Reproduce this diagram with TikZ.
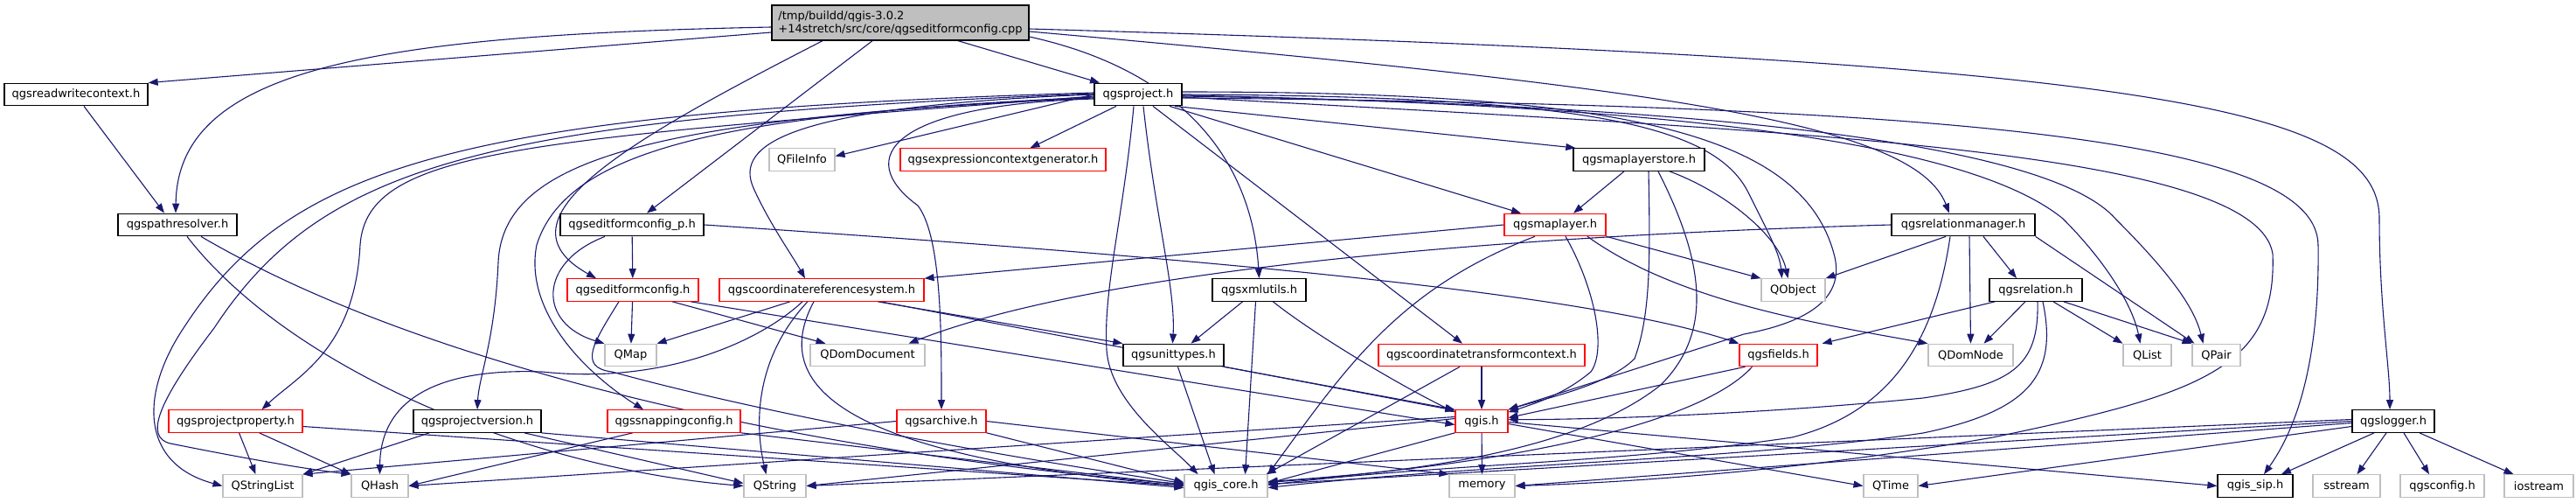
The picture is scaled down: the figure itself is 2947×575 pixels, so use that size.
\documentclass[tikz,border=0pt]{standalone}
\usepackage{fontspec}
\setmainfont{DejaVu Sans}
\usetikzlibrary{arrows.meta}
\pgfdeclarelayer{background}
\pgfsetlayers{background,main}
\definecolor{ecol}{RGB}{25,25,112}
\definecolor{gcol}{RGB}{191,191,191}
\definecolor{rcol}{RGB}{255,0,0}
\definecolor{rootfill}{RGB}{191,191,191}
\newcommand{\nodefnt}{\fontsize{13}{15}\selectfont}
\tikzset{
  nbase/.style={fill=white, inner sep=0pt, minimum height=25.5pt, font=\nodefnt, text=black},
  nb/.style={nbase, draw=black, line width=1.3pt},
  nr/.style={nbase, draw=rcol, line width=1.1pt},
  ng/.style={nbase, draw=gcol, line width=1.1pt},
  nroot/.style={nbase, fill=rootfill, draw=black, line width=1.3pt, align=left},
  e/.style={draw=ecol, line width=1.1pt, -{Triangle[length=11pt,width=8pt]}}
}
\begin{document}
\begin{tikzpicture}[x=1pt,y=-1pt]
\useasboundingbox (0,0) rectangle (2947,575);
% ---------- nodes ----------
\node[nroot, minimum width=294pt, minimum height=40pt] (root) at (1030,26) {/tmp/buildd/qgis-3.0.2\\+14stretch/src/core/qgseditformconfig.cpp};
\node[nb, minimum width=164pt] (rw) at (87,108) {qgsreadwritecontext.h};
\node[ng, minimum width=75pt] (fi) at (917.5,182.5) {QFileInfo};
\node[nb, minimum width=100pt] (pj) at (1302,108) {qgsproject.h};
\node[nr, minimum width=235pt] (eg) at (1147.5,182.5) {qgsexpressioncontextgenerator.h};
\node[nb, minimum width=150pt] (ms) at (1875,182.5) {qgsmaplayerstore.h};
\node[nb, minimum width=136pt] (pr) at (203,257) {qgspathresolver.h};
\node[nb, minimum width=164pt] (efp) at (723,257) {qgseditformconfig\_p.h};
\node[nr, minimum width=116pt] (ml) at (1779,257) {qgsmaplayer.h};
\node[nb, minimum width=164pt] (rm) at (2246,257) {qgsrelationmanager.h};
\node[nr, minimum width=150pt] (ef) at (724,331.5) {qgseditformconfig.h};
\node[nr, minimum width=234pt] (crs) at (940,331.5) {qgscoordinatereferencesystem.h};
\node[nb, minimum width=107pt] (xu) at (1440.5,331.5) {qgsxmlutils.h};
\node[ng, minimum width=73pt] (qo) at (2051.5,331.5) {QObject};
\node[nb, minimum width=106pt] (rl) at (2329,331.5) {qgsrelation.h};
\node[ng, minimum width=59pt] (qm) at (721.5,406) {QMap};
\node[ng, minimum width=131pt] (qdd) at (992.5,406) {QDomDocument};
\node[nb, minimum width=115pt] (ut) at (1342.5,406) {qgsunittypes.h};
\node[nr, minimum width=236pt] (ctc) at (1695,406) {qgscoordinatetransformcontext.h};
\node[nr, minimum width=89pt] (fl) at (2034.5,406) {qgsfields.h};
\node[ng, minimum width=97pt] (dn) at (2254.5,406) {QDomNode};
\node[ng, minimum width=55pt] (ql) at (2456.5,406) {QList};
\node[ng, minimum width=55pt] (qp) at (2535.5,406) {QPair};
\node[nr, minimum width=153pt] (pp) at (269.5,481.5) {qgsprojectproperty.h};
\node[nb, minimum width=146pt] (pv) at (546,481.5) {qgsprojectversion.h};
\node[nr, minimum width=152pt] (sc) at (771,481.5) {qgssnappingconfig.h};
\node[nr, minimum width=102pt] (ar) at (1077,481.5) {qgsarchive.h};
\node[nr, minimum width=60pt] (qg) at (1695,481.5) {qgis.h};
\node[nb, minimum width=94pt] (lg) at (2738,481.5) {qgslogger.h};
\node[ng, minimum width=91pt] (qsl) at (300.5,555.5) {QStringList};
\node[ng, minimum width=65pt] (qh) at (434.5,555.5) {QHash};
\node[ng, minimum width=71pt] (qs) at (886.5,555.5) {QString};
\node[ng, minimum width=95pt] (qc) at (1402.5,555.5) {qgis\_core.h};
\node[ng, minimum width=75pt] (mem) at (1695.5,555.5) {memory};
\node[ng, minimum width=62pt] (qt) at (2163,555.5) {QTime};
\node[nb, minimum width=86pt] (sip) at (2580,555.5) {qgis\_sip.h};
\node[ng, minimum width=77pt] (ss) at (2684.5,555.5) {sstream};
\node[ng, minimum width=96pt] (cfg) at (2794,555.5) {qgsconfig.h};
\node[ng, minimum width=79pt] (ios) at (2904.5,555.5) {iostream};
% ---------- edges ----------
\begin{pgfonlayer}{background}
% root
\draw[e] ([yshift=-11pt]root.west) -- (rw.north east);
\draw[e] ([yshift=-5pt]root.west) .. controls (420,40) and (203,80) .. ([xshift=-2pt]pr.north);
\draw[e] ([xshift=-89pt]root.south) .. controls (720,160) and (560,250) .. ([xshift=-42pt]ef.north);
\draw[e] ([xshift=-32pt]root.south) -- ([xshift=17pt]efp.north);
\draw[e] ([xshift=66pt]root.south) -- ([xshift=-44pt]pj.north);
\draw[e] ([yshift=-16pt]root.east) .. controls (1350,80) and (1432,180) .. (xu.north);
\draw[e] ([yshift=-10pt]root.east) .. controls (1900,100) and (2190,140) .. ([xshift=-16pt]rm.north);
\draw[e] ([yshift=-7pt]root.east) .. controls (2450,70) and (2722,120) .. (2722,250) .. controls (2722,350) and (2734,420) .. ([xshift=-4pt]lg.north);
% readwritecontext, pathresolver
\draw[e] ([xshift=9pt]rw.south) -- ([xshift=-15pt]pr.north);
\draw[e] ([xshift=11pt]pr.south) .. controls (330,420) and (600,535) .. (qs.west);
\draw[e] ([xshift=27pt]pr.south) .. controls (520,440) and (1000,525) .. ([yshift=2pt]qc.west);
% qgsproject.h
\draw[e] (pj.west) -- ([yshift=4pt]fi.east);
\draw[e] ([xshift=-25pt]pj.south) -- ([xshift=31pt]eg.north);
\draw[e] ([xshift=42pt]pj.south) -- ([xshift=3pt]ms.north west);
\draw[e] ([xshift=36pt]pj.south) -- ([xshift=-39pt]ml.north);
\draw[e] ([xshift=17pt]pj.south) -- ([xshift=-22pt]ctc.north);
\draw[e] ([xshift=6pt]pj.south) .. controls (1322,250) and (1345,330) .. ([xshift=-1pt]ut.north);
\draw[e] ([xshift=-5pt]pj.south) .. controls (1285,250) and (1262,330) .. (1266,400) .. controls (1270,460) and (1340,510) .. ([xshift=-32pt]qc.north);
\draw[e] ([yshift=-5pt]pj.west) .. controls (1020,120) and (975,180) .. (1050,235) .. controls (1077,270) and (1077,380) .. (ar.north);
\draw[e] (pj.west) .. controls (900,122) and (840,165) .. (862,215) .. controls (880,255) and (905,290) .. ([xshift=-19pt]crs.north);
\draw[e] ([yshift=-2pt]pj.west) .. controls (600,160) and (420,170) .. (412,280) .. controls (406,400) and (340,430) .. ([xshift=30pt]pp.north);
\draw[e] ([yshift=-4pt]pj.west) .. controls (750,135) and (575,180) .. (570,300) .. controls (566,390) and (548,430) .. (pv.north);
\draw[e] ([yshift=-3pt]pj.west) .. controls (850,130) and (650,165) .. (614,280) .. controls (600,350) and (660,420) .. ([xshift=-35pt]sc.north);
\draw[e] ([yshift=2pt]pj.west) .. controls (520,128) and (330,190) .. (210,375) .. controls (160,450) and (160,530) .. (qsl.west);
\draw[e] ([yshift=1pt]pj.west) .. controls (560,135) and (370,185) .. (245,375) .. controls (180,460) and (165,500) .. (195,507) .. controls (260,520) and (340,535) .. (qh.north west);
\draw[e] (pj.east) .. controls (1800,110) and (1960,140) .. (2000,220) .. controls (2025,270) and (2036,290) .. ([xshift=-13pt]qo.north);
\draw[e] ([yshift=3pt]pj.east) .. controls (1850,105) and (2060,150) .. (2098,290) .. controls (2112,340) and (2070,368) .. (1995,382) -- (qg.north east);
\draw[e] ([yshift=-1pt]pj.east) .. controls (1900,120) and (2250,160) .. (2360,250) .. controls (2410,300) and (2440,350) .. ([xshift=-8pt]ql.north);
\draw[e] ([yshift=-2pt]pj.east) .. controls (2000,120) and (2350,170) .. (2420,250) .. controls (2480,310) and (2510,350) .. ([xshift=-15pt]qp.north);
\draw[e] ([yshift=-4pt]pj.east) .. controls (2250,120) and (2650,160) .. (2652,280) .. controls (2654,430) and (2620,500) .. ([xshift=10pt]sip.north);
\draw[e] ([yshift=-3pt]pj.east) .. controls (2050,150) and (2580,170) .. (2600,290) .. controls (2605,420) and (2520,450) .. (2280,500) .. controls (2050,540) and (1850,552) .. (mem.east);
% qgsmaplayerstore.h
\draw[e] ([xshift=-17pt]ms.south) -- ([xshift=21pt]ml.north);
\draw[e] ([xshift=11pt]ms.south) .. controls (1888,300) and (1888,360) .. (1870,410) .. controls (1840,440) and (1770,455) .. (qg.north east);
\draw[e] ([xshift=35pt]ms.south) .. controls (1975,220) and (2035,270) .. ([xshift=-6pt]qo.north);
\draw[e] ([xshift=22pt]ms.south) .. controls (1950,300) and (1960,380) .. (1900,440) .. controls (1800,520) and (1600,540) .. ([yshift=4pt]qc.east);
% qgsmaplayer.h
\draw[e] (ml.west) -- (crs.north east);
\draw[e] (ml.south east) -- (qo.north west);
\draw[e] ([xshift=12pt]ml.south) .. controls (1825,330) and (1838,400) .. (1820,425) .. controls (1790,450) and (1760,460) .. ([yshift=-3pt]qg.north east);
\draw[e] ([xshift=-23pt]ml.south) .. controls (1600,330) and (1540,420) .. (qc.north east);
\draw[e] ([xshift=37pt]ml.south) .. controls (1920,345) and (2080,370) .. (dn.north west);
% qgsrelationmanager.h
\draw[e] ([xshift=-20pt]rm.south) -- (qo.north east);
\draw[e] ([xshift=23pt]rm.south) -- ([xshift=-22pt]rl.north);
\draw[e] (rm.west) .. controls (1700,270) and (1250,310) .. ([xshift=47pt]qdd.north);
\draw[e] ([xshift=7pt]rm.south) -- (dn.north);
\draw[e] (rm.south east) -- ([xshift=-25pt]qp.north);
\draw[e] ([xshift=-15pt]rm.south) .. controls (2215,380) and (2170,470) .. (2050,500) .. controls (1850,530) and (1650,530) .. ([yshift=1pt]qc.east);
% qgsrelation.h
\draw[e] ([xshift=-47pt]rl.south) -- ([xshift=5pt]fl.north east);
\draw[e] ([xshift=-12pt]rl.south) -- ([xshift=15pt]dn.north);
\draw[e] ([xshift=20pt]rl.south) -- (ql.north west);
\draw[e] ([xshift=32pt]rl.south) -- (qp.north west);
\draw[e] ([xshift=2pt]rl.south) .. controls (2333,420) and (2300,440) .. (2200,455) .. controls (2000,475) and (1800,480) .. ([yshift=2pt]qg.east);
\draw[e] ([xshift=8pt]rl.south) .. controls (2355,430) and (2320,470) .. (2200,495) .. controls (2000,525) and (1700,530) .. ([yshift=-2pt]qc.east);
% qgsfields.h
\draw[e] ([xshift=-38pt]fl.south) -- ([yshift=4pt]qg.east);
\draw[e] ([xshift=-30pt]fl.south) .. controls (1950,480) and (1750,530) .. ([yshift=5pt]qc.east);
% qgsxmlutils.h
\draw[e] ([xshift=-19pt]xu.south) -- ([xshift=20pt]ut.north);
\draw[e] ([xshift=-4pt]xu.south) -- ([xshift=22pt]qc.north);
\draw[e] ([xshift=16pt]xu.south) .. controls (1500,380) and (1600,440) .. ([yshift=-3pt]qg.north west);
% qgsunittypes.h
\draw[e] ([xshift=5pt]ut.south) -- ([xshift=-13pt]qc.north);
\draw[e] (ut.south east) -- (qg.north west);
% qgscoordinatetransformcontext.h
\draw[e] (ctc) -- (qg);
\draw[e] ([xshift=-25pt]ctc.south) -- ([xshift=-2pt]qc.north east);
% qgscoordinatereferencesystem.h
\draw[e] ([xshift=-36pt]crs.south) -- (qm.north east);
\draw[e] ([xshift=-22pt]crs.south) .. controls (870,390) and (760,440) .. (620,425) .. controls (480,420) and (435,470) .. (qh.north);
\draw[e] ([xshift=-16pt]crs.south) .. controls (872,400) and (860,470) .. ([xshift=-10pt]qs.north);
\draw[e] ([xshift=-9pt]crs.south) .. controls (880,440) and (960,520) .. (qc.west);
\draw[e] ([xshift=64pt]crs.south) -- (ut.north west);
\draw[e] ([xshift=67pt]crs.south) -- ([yshift=-1pt]qg.north west);
% qgseditformconfig.h
\draw[e] (ef) -- (qm);
\draw[e] ([xshift=45pt]ef.south) -- ([xshift=-48pt]qdd.north);
\draw[e] ([xshift=66pt]ef.south) -- ([yshift=-4pt]qg.west);
\draw[e] ([xshift=-16pt]ef.south) .. controls (680,390) and (660,420) .. (700,425) .. controls (900,480) and (1200,530) .. ([yshift=3pt]qc.west);
% qgseditformconfig_p.h
\draw[e] (efp) -- (ef);
\draw[e] ([xshift=-31pt]efp.south) .. controls (615,300) and (615,370) .. ([xshift=-30pt]qm.north);
\draw[e] (efp.east) .. controls (1300,290) and (1800,330) .. (fl.north west);
% qgsarchive.h
\draw[e] (ar.west) -- (qsl.north east);
\draw[e] (ar.south east) -- ([yshift=4pt]qc.west);
\draw[e] (ar.east) -- (mem.north west);
% qgsprojectproperty.h
\draw[e] ([xshift=4pt]pp.south) -- ([xshift=-8pt]qsl.north);
\draw[e] ([xshift=27pt]pp.south) -- (qh.north west);
\draw[e] ([yshift=-6pt]pp.east) -- (qc.west);
% qgsprojectversion.h
\draw[e] ([xshift=-55pt]pv.south) -- (qsl.north east);
\draw[e] ([xshift=54pt]pv.south) -- ([yshift=3pt]qs.west);
\draw[e] (pv.south east) -- ([yshift=-2pt]qc.west);
% qgssnappingconfig.h
\draw[e] ([xshift=-47pt]sc.south) -- (qh.east);
\draw[e] (sc.south east) -- ([yshift=1pt]qc.west);
% qgis.h
\draw[e] (qg) -- (mem);
\draw[e] (qg.south west) -- ([yshift=3pt]qc.east);
\draw[e] ([yshift=3pt]qg.west) -- (qs.east);
\draw[e] ([yshift=5pt]qg.west) -- (qh.east);
\draw[e] ([yshift=-3pt]qg.east) -- (qt.west);
\draw[e] ([yshift=-1pt]qg.east) -- (sip.west);
% qgslogger.h
\draw[e] ([xshift=-22pt]lg.south) -- ([xshift=30pt]sip.north);
\draw[e] ([xshift=-8pt]lg.south) -- ([xshift=12pt]ss.north);
\draw[e] ([xshift=12pt]lg.south) -- ([xshift=-15pt]cfg.north);
\draw[e] ([xshift=30pt]lg.south) -- ([xshift=-29pt]ios.north);
\draw[e] ([yshift=-6pt]lg.west) -- (qt.east);
\draw[e] ([yshift=2pt]lg.west) -- (qs.east);
\draw[e] (lg.west) -- ([yshift=2pt]qc.east);
\draw[e] ([yshift=-2pt]lg.west) -- (mem.east);
\end{pgfonlayer}
\end{tikzpicture}
\end{document}
